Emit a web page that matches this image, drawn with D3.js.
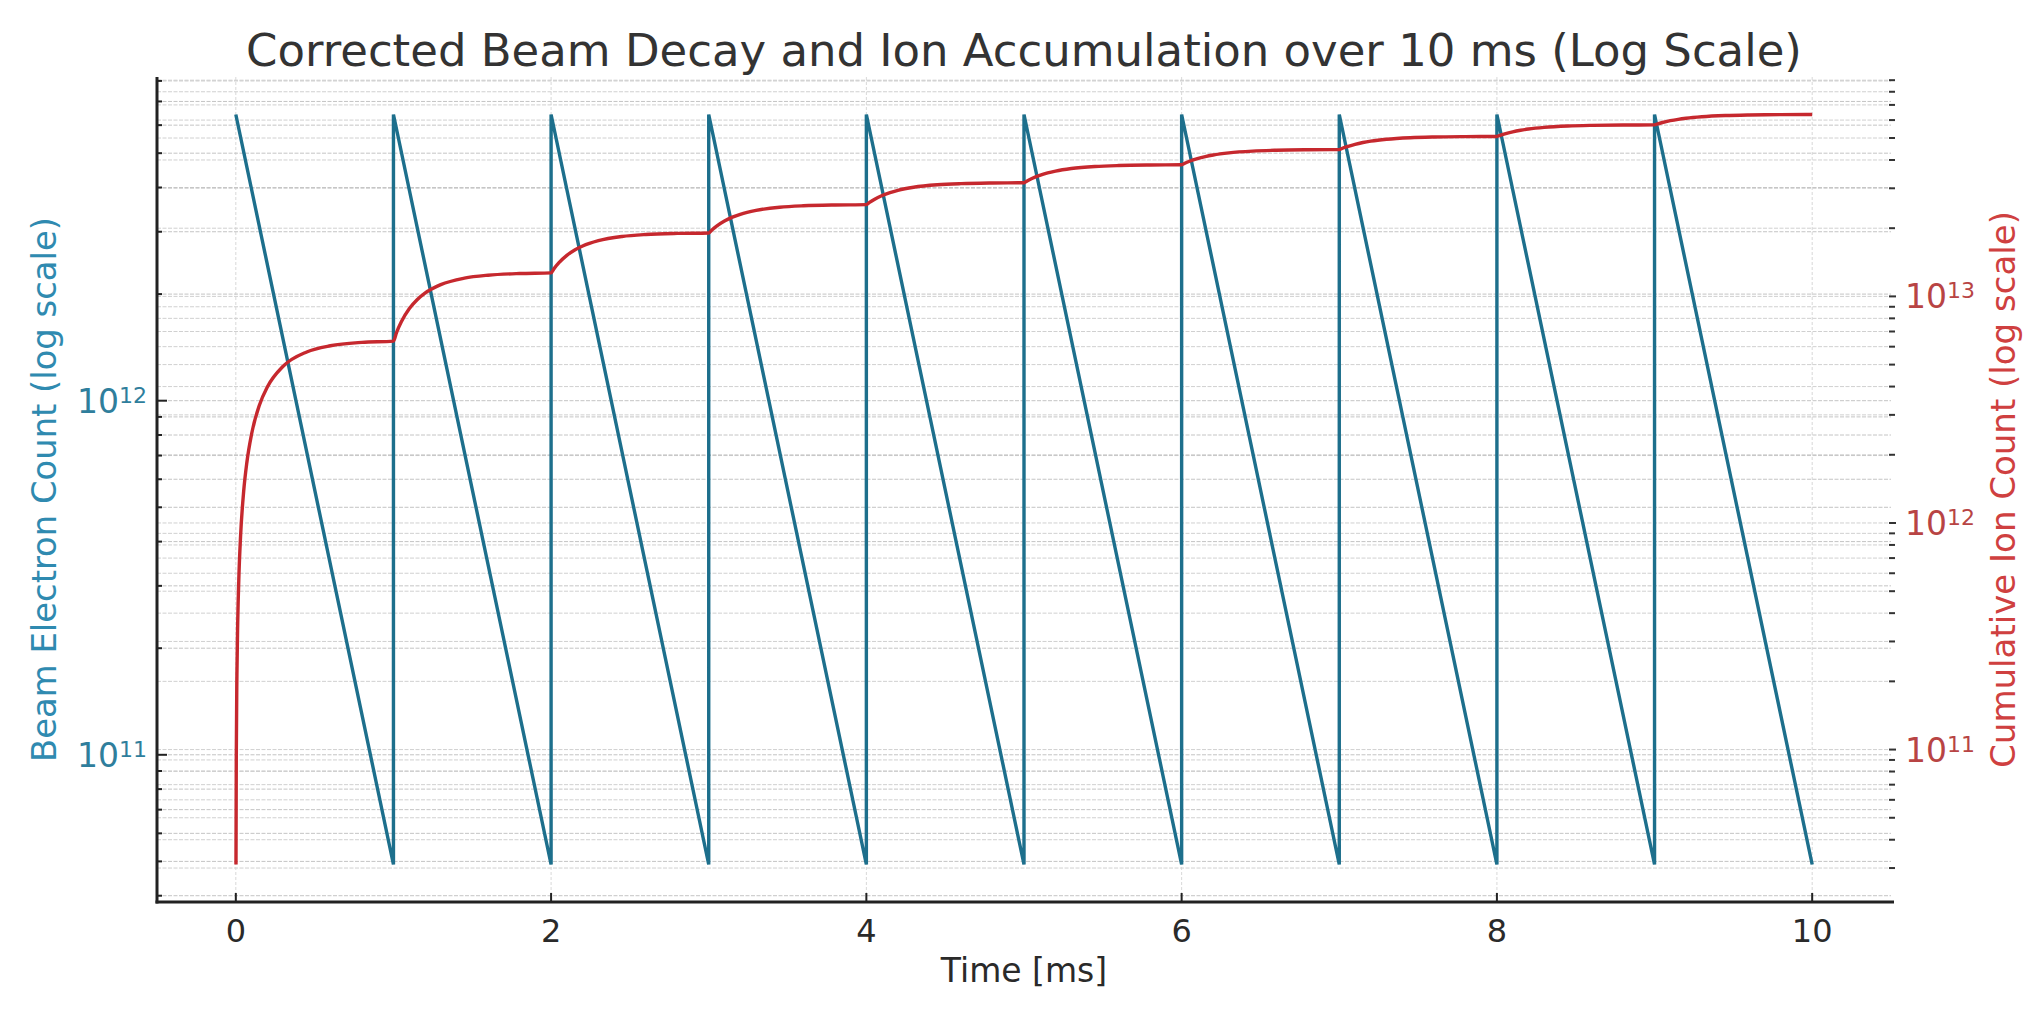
<!DOCTYPE html>
<html><head><meta charset="utf-8">
<script src="https://cdn.jsdelivr.net/npm/d3@7"></script>
<style>
body{margin:0;background:#fff}
svg{display:block}
text{font-family:"DejaVu Sans",sans-serif}
</style>
</head><body>
<svg id="chart" width="2035" height="1016"></svg>
<script>
// ---------------- DATA ----------------
const titleText = "Corrected Beam Decay and Ion Accumulation over 10 ms (Log Scale)";
const xLabelText = "Time [ms]";
const yLeftLabelText = "Beam Electron Count (log scale)";
const yRightLabelText = "Cumulative Ion Count (log scale)";
const xTickValues = [0, 2, 4, 6, 8, 10];

// Beam electron count (sawtooth, refilled every 1 ms)
const beamTime  = [0, 1, 1, 2, 2, 3, 3, 4, 4, 5, 5, 6, 6, 7, 7, 8, 8, 9, 9, 10];
const beamCount = [6.43e12, 4.9e10, 6.43e12, 4.9e10, 6.43e12, 4.9e10, 6.43e12, 4.9e10,
                   6.43e12, 4.9e10, 6.43e12, 4.9e10, 6.43e12, 4.9e10, 6.43e12, 4.9e10,
                   6.43e12, 4.9e10, 6.43e12, 4.9e10];

// Cumulative ion count (units of 1e12)
const ionTime = [
  0.001, 0.003, 0.007, 0.012, 0.02, 0.03, 0.05, 0.07, 0.1, 0.15, 0.2, 0.3, 0.45, 0.6, 0.8, 1.0,
  1.02, 1.05, 1.1, 1.15, 1.2, 1.3, 1.45, 1.6, 1.8, 2.0,
  2.02, 2.05, 2.1, 2.15, 2.2, 2.3, 2.45, 2.6, 2.8, 3.0,
  3.02, 3.05, 3.1, 3.15, 3.2, 3.3, 3.45, 3.6, 3.8, 4.0,
  4.02, 4.05, 4.1, 4.15, 4.2, 4.3, 4.45, 4.6, 4.8, 5.0,
  5.02, 5.05, 5.1, 5.15, 5.2, 5.3, 5.45, 5.6, 5.8, 6.0,
  6.02, 6.05, 6.1, 6.15, 6.2, 6.3, 6.45, 6.6, 6.8, 7.0,
  7.02, 7.05, 7.1, 7.15, 7.2, 7.3, 7.45, 7.6, 7.8, 8.0,
  8.02, 8.05, 8.1, 8.15, 8.2, 8.3, 8.45, 8.6, 8.8, 9.0,
  9.02, 9.05, 9.1, 9.15, 9.2, 9.3, 9.45, 9.6, 9.8, 10.0
];
const ionCountE12 = [
  0.0311, 0.0929, 0.2147, 0.3636, 0.594, 0.871, 1.384, 1.850, 2.469, 3.319, 3.985, 4.916, 5.685, 6.055, 6.269, 6.35,
  6.944, 7.734, 8.819, 9.669, 10.335, 11.266, 12.035, 12.405, 12.619, 12.70,
  13.294, 14.084, 15.169, 16.019, 16.685, 17.616, 18.385, 18.755, 18.969, 19.05,
  19.644, 20.434, 21.519, 22.369, 23.035, 23.966, 24.735, 25.105, 25.319, 25.40,
  25.994, 26.784, 27.869, 28.719, 29.385, 30.316, 31.085, 31.455, 31.669, 31.75,
  32.344, 33.134, 34.219, 35.069, 35.735, 36.666, 37.435, 37.805, 38.019, 38.10,
  38.694, 39.484, 40.569, 41.419, 42.085, 43.016, 43.785, 44.155, 44.369, 44.45,
  45.044, 45.834, 46.919, 47.769, 48.435, 49.366, 50.135, 50.505, 50.719, 50.80,
  51.394, 52.184, 53.269, 54.119, 54.785, 55.716, 56.485, 56.855, 57.069, 57.15,
  57.744, 58.534, 59.619, 60.469, 61.135, 62.066, 62.835, 63.205, 63.419, 63.50
];
const ION_UNIT = 1e12;

// ---------------- STYLE ----------------
const M = {left: 157, right: 1891, top: 77, bottom: 902};
const beamColor = "#1d6f8c", beamTextColor = "#2f8ab0", beamTickColor = "#2f7e9c";
const ionColor = "#c6282e", ionTextColor = "#cf4040", ionTickColor = "#b84444";

const svg = d3.select("#chart");
svg.append("rect").attr("width", 2035).attr("height", 1016).attr("fill", "#fff");

function padLin(ext) { const p = (ext[1] - ext[0]) * 0.05; return [ext[0] - p, ext[1] + p]; }
function padLog(ext) {
  const a = Math.log10(ext[0]), b = Math.log10(ext[1]), p = (b - a) * 0.05;
  return [Math.pow(10, a - p), Math.pow(10, b + p)];
}

const ionCount = ionCountE12.map(v => v * ION_UNIT);
const x = d3.scaleLinear().domain(padLin(d3.extent(beamTime))).range([M.left, M.right]);
const yL = d3.scaleLog().domain(padLog(d3.extent(beamCount))).range([M.bottom, M.top]);
const yR = d3.scaleLog().domain(padLog(d3.extent(ionCount))).range([M.bottom, M.top]);

const isMajor = v => Math.abs(Math.log10(v) - Math.round(Math.log10(v))) < 1e-9;

// ---------------- GRID ----------------
const grid = svg.append("g");
xTickValues.forEach(v => {
  grid.append("line").attr("x1", x(v)).attr("x2", x(v)).attr("y1", M.top).attr("y2", M.bottom)
    .attr("stroke", "#d8d8d8").attr("stroke-width", 1).attr("stroke-dasharray", "3,2");
});
yL.ticks().forEach(v => {
  grid.append("line").attr("x1", M.left).attr("x2", M.right).attr("y1", yL(v)).attr("y2", yL(v))
    .attr("stroke", "#c4c4c4").attr("stroke-width", 1).attr("stroke-dasharray", "4,1.5");
});
yR.ticks().forEach(v => {
  grid.append("line").attr("x1", M.left).attr("x2", M.right).attr("y1", yR(v)).attr("y2", yR(v))
    .attr("stroke", "#d0d0d0").attr("stroke-width", 1).attr("stroke-dasharray", "4,1.5");
});

// ---------------- LINES ----------------
const beamLine = d3.line().x(i => x(beamTime[i])).y(i => yL(beamCount[i]));
svg.append("path").attr("d", beamLine(d3.range(beamTime.length)))
  .attr("fill", "none").attr("stroke", beamColor).attr("stroke-width", 3.4).attr("stroke-linejoin", "miter");

const ionLine = d3.line().curve(d3.curveMonotoneX).x(i => x(ionTime[i])).y(i => yR(ionCount[i]));
svg.append("path").attr("d", ionLine(d3.range(ionTime.length)))
  .attr("fill", "none").attr("stroke", ionColor).attr("stroke-width", 3.4);

// ---------------- SPINES & TICKS ----------------
const ax = svg.append("g");
ax.append("line").attr("x1", M.left).attr("x2", M.left).attr("y1", M.top).attr("y2", M.bottom + 1.5)
  .attr("stroke", "#222").attr("stroke-width", 3);
ax.append("line").attr("x1", M.left - 1.5).attr("x2", M.right + 3).attr("y1", M.bottom).attr("y2", M.bottom)
  .attr("stroke", "#222").attr("stroke-width", 3);

// x ticks (inward)
xTickValues.forEach(v => {
  ax.append("line").attr("x1", x(v)).attr("x2", x(v)).attr("y1", M.bottom).attr("y2", M.bottom - 9)
    .attr("stroke", "#222").attr("stroke-width", 2);
  ax.append("text").attr("x", x(v)).attr("y", 942).attr("text-anchor", "middle")
    .attr("fill", "#2a2a2a").style("font-size", "32px").text(v);
});

function sciLabel(px, py, exp, anchor, color) {
  const t = ax.append("text").attr("x", px).attr("y", py).attr("text-anchor", anchor)
    .attr("fill", color).style("font-size", "33px");
  t.append("tspan").text("10");
  t.append("tspan").attr("dy", -10).style("font-size", "22px").text(exp);
}

// left ticks (inward)
yL.ticks().forEach(v => {
  const y = yL(v), maj = isMajor(v);
  ax.append("line").attr("x1", M.left).attr("x2", M.left + (maj ? 10 : 5)).attr("y1", y).attr("y2", y)
    .attr("stroke", "#222").attr("stroke-width", 2);
  if (maj) sciLabel(147, y + 12, Math.round(Math.log10(v)), "end", beamTickColor);
});

// right ticks (outward)
yR.ticks().forEach(v => {
  const y = yR(v), maj = isMajor(v);
  ax.append("line").attr("x1", M.right - 2).attr("x2", M.right + (maj ? 5 : 4)).attr("y1", y).attr("y2", y)
    .attr("stroke", "#333").attr("stroke-width", 2);
  if (maj) sciLabel(1905, y + 12, Math.round(Math.log10(v)), "start", ionTickColor);
});

// ---------------- TEXT ----------------
function fit(sel, target) {
  const L = sel.node().getComputedTextLength();
  const fs = parseFloat(sel.style("font-size"));
  sel.style("font-size", (fs * target / L) + "px");
}
const cx = (M.left + M.right) / 2, cy = (M.top + M.bottom) / 2;

const title = svg.append("text").attr("x", cx).attr("y", 66).attr("text-anchor", "middle")
  .attr("fill", "#333").style("font-size", "40px").text(titleText);
fit(title, 1556);

svg.append("text").attr("x", cx).attr("y", 982).attr("text-anchor", "middle")
  .attr("fill", "#2a2a2a").style("font-size", "33px").text(xLabelText);

const yl = svg.append("text").attr("transform", `translate(56,${cy}) rotate(-90)`).attr("text-anchor", "middle")
  .attr("fill", beamTextColor).style("font-size", "34px").text(yLeftLabelText);
fit(yl, 545);

const yr = svg.append("text").attr("transform", `translate(2015,${cy}) rotate(-90)`).attr("text-anchor", "middle")
  .attr("fill", ionTextColor).style("font-size", "34px").text(yRightLabelText);
fit(yr, 557);
</script>
</body></html>
